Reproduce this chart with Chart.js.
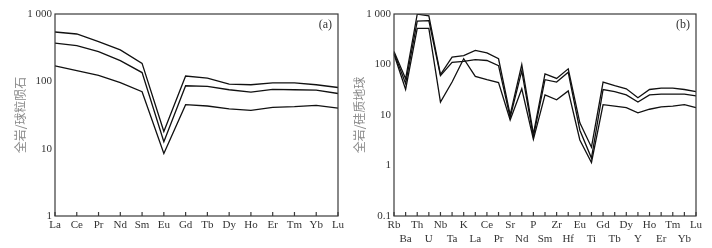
<!DOCTYPE html>
<html>
<head>
<meta charset="utf-8">
<script src="https://cdn.jsdelivr.net/npm/chart.js@4"></script>
<style>
  body { margin: 0; background: #fff; }
  .wrap { position: relative; width: 712px; height: 248px; }
  canvas { position: absolute; top: 0; }
  #ree { left: 0; }
  #spider { left: 340px; }
</style>
</head>
<body>
<div class="wrap">
  <canvas id="ree" width="356" height="248"></canvas>
  <canvas id="spider" width="372" height="248"></canvas>
</div>
<script>
// (a) chondrite normalised REE
const reeLabels = ["La", "Ce", "Pr", "Nd", "Sm", "Eu", "Gd", "Tb", "Dy", "Ho", "Er", "Tm", "Yb", "Lu"]
const reeHigh = [540, 505, 390, 293, 185, 18, 120, 112, 91, 89, 95, 95, 89, 81]
const reeMid = [370, 340, 277, 203, 135, 12.7, 86, 84, 75, 69, 76, 75, 74, 66]
const reeLow = [169, 144, 123, 96, 70, 8.5, 45, 43, 39, 37, 41, 42, 44, 40]
const reeTicks = [1, 10, 100, 1000]

// (b) bulk silicate earth normalised spider diagram
const spiderLabels = ["Rb", "Ba", "Th", "U", "Nb", "Ta", "K", "La", "Ce", "Pr", "Sr", "Nd", "P", "Sm",
  "Zr", "Hf", "Eu", "Ti", "Gd", "Tb", "Dy", "Y", "Ho", "Er", "Tm", "Yb", "Lu"]
const spiderHigh = [180, 52, 990, 920, 63, 140, 150, 190, 170, 130, 10, 100, 4.2, 65,
  53, 82, 7, 2.3, 45, 38, 33, 22, 32, 34, 34, 32, 29]
const spiderMid = [170, 42, 720, 740, 60, 110, 115, 125, 120, 95, 9, 75, 3.7, 50,
  45, 70, 5, 1.4, 32, 29, 25, 18, 25, 26, 26, 26, 24]
const spiderLow = [160, 32, 520, 520, 18, 45, 130, 58, 50, 44, 8, 33, 3.3, 25,
  20, 30, 3.2, 1.15, 16, 15, 14, 11, 13, 14.5, 15, 16, 14]
const spiderTicks = [0.1, 1, 10, 100, 1000]

const axisColor = "#3a3a3a"
const serif = "'Liberation Serif', 'DejaVu Serif', serif"

// box, inward ticks, panel tag and rotated y title
const framePlugin = {
  id: "frame",
  afterDraw(chart, args, opts) {
    const { ctx, chartArea: a, scales } = chart
    ctx.save()
    ctx.strokeStyle = axisColor
    ctx.lineWidth = 1.2
    ctx.strokeRect(a.left, a.top, a.right - a.left, a.bottom - a.top)
    ctx.beginPath()
    scales.x.ticks.forEach((t, i) => {
      const x = scales.x.getPixelForTick(i)
      ctx.moveTo(x, a.bottom)
      ctx.lineTo(x, a.bottom - 4)
    })
    ctx.stroke()

    ctx.fillStyle = "#333"
    ctx.font = "12px " + serif
    ctx.textAlign = "right"
    ctx.textBaseline = "middle"
    ctx.fillText(opts.tag, a.right - 6, a.top + 11)

    ctx.translate(opts.titleX, (a.top + a.bottom) / 2)
    ctx.rotate(-Math.PI / 2)
    ctx.fillStyle = "#8a8a8a"
    ctx.font = "12px 'Noto Sans CJK SC'"
    ctx.textAlign = "center"
    ctx.fillText(opts.title, 0, 0)
    ctx.restore()
  },
}

function lineSet(data) {
  return {
    data: data,
    borderColor: "#111",
    borderWidth: 1.3,
    pointRadius: 0,
    tension: 0,
    fill: false,
  }
}

function makeChart(id, labels, series, ticks, opt) {
  return new Chart(document.getElementById(id), {
    type: "line",
    data: {
      labels: labels,
      datasets: series.map(lineSet),
    },
    plugins: [framePlugin],
    options: {
      responsive: false,
      animation: false,
      layout: { padding: { top: 14, right: opt.right, bottom: 0, left: 0 } },
      plugins: {
        legend: { display: false },
        tooltip: { enabled: false },
        frame: { tag: opt.tag, title: opt.title, titleX: opt.titleX },
      },
      scales: {
        x: {
          type: "category",
          offset: false,
          grid: { display: false, drawTicks: false, tickLength: 0 },
          border: { display: false },
          afterFit: (s) => { s.height = 32 },
          ticks: {
            autoSkip: false,
            maxRotation: 0,
            padding: 2,
            color: "#333",
            font: { size: 11, family: serif, lineHeight: 1.25 },
            callback: opt.xLabel,
          },
        },
        y: {
          type: "logarithmic",
          min: ticks[0],
          max: ticks[ticks.length - 1],
          grid: { display: false, drawTicks: false, tickLength: 0 },
          border: { display: false },
          afterFit: (s) => { s.width = opt.yWidth },
          afterBuildTicks: (s) => { s.ticks = ticks.map((v) => ({ value: v })) },
          ticks: {
            padding: 3,
            color: "#333",
            font: { size: 11, family: serif },
            callback: (v) => (v >= 1000 ? "1 000" : String(v)),
          },
        },
      },
    },
  })
}

makeChart("ree", reeLabels, [reeHigh, reeMid, reeLow], reeTicks, {
  right: 18,
  yWidth: 55,
  tag: "(a)",
  title: "全岩/球粒陨石",
  titleX: 20,
  xLabel: (v, i) => reeLabels[i],
})

makeChart("spider", spiderLabels, [spiderHigh, spiderMid, spiderLow], spiderTicks, {
  right: 16,
  yWidth: 54,
  tag: "(b)",
  title: "全岩/硅质地球",
  titleX: 19,
  // alternate the element names over two rows
  xLabel: (v, i) => (i % 2 === 0 ? [spiderLabels[i], ""] : ["", spiderLabels[i]]),
})
</script>
</body>
</html>
